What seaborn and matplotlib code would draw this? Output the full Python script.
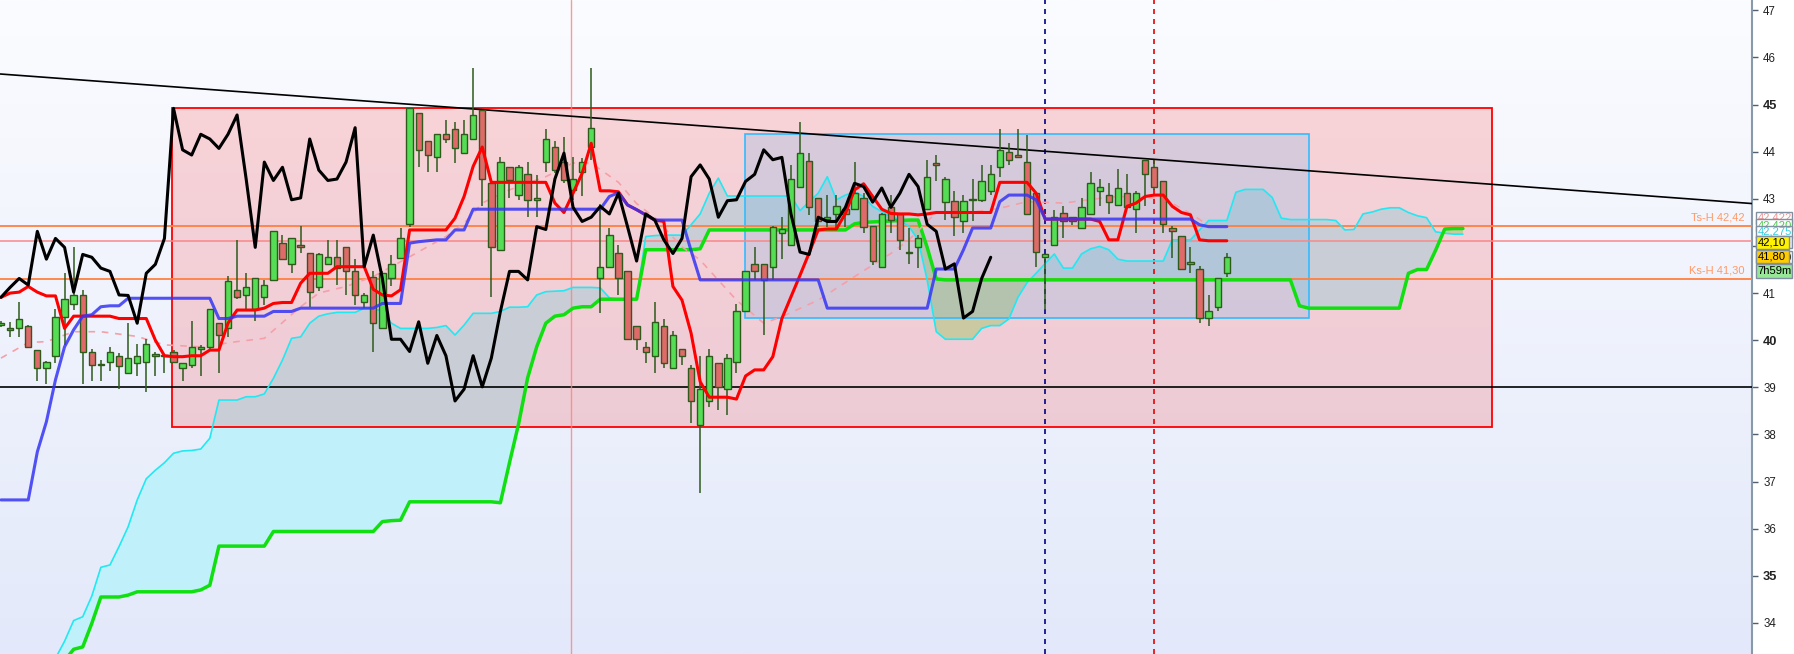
import numpy as np
import matplotlib
matplotlib.use('Agg')
import matplotlib.pyplot as plt
import matplotlib.transforms as mtransforms
from matplotlib.colors import LinearSegmentedColormap
from matplotlib.patches import Rectangle
import seaborn as sns

sns.set_style('white')
plt.rcParams['font.family'] = ['Liberation Sans', 'DejaVu Sans']

# candles (bar index 0..135)
opens = [40.32, 40.25, 40.25, 40.31, 39.80, 39.40, 39.67, 40.50, 40.76, 40.95,
         39.76, 39.47, 39.54, 39.67, 39.30, 39.51, 39.54, 39.71, 39.68, 39.76,
         39.40, 39.47, 39.81, 39.85, 40.36, 40.25, 41.07, 40.96, 40.66, 40.91,
         41.28, 42.06, 41.62, 42.02, 41.86, 41.12, 41.62, 41.76, 41.97, 41.46,
         40.80, 41.35, 40.25, 41.31, 41.75, 42.46, 44.82, 44.22, 43.88, 44.37,
         44.48, 43.97, 44.27, 44.89, 43.33, 41.92, 43.67, 43.08, 43.52, 42.98,
         43.78, 44.11, 43.78, 43.18, 43.58, 44.10, 41.31, 41.56, 41.86, 41.46,
         40.31, 39.85, 39.67, 40.31, 39.40, 39.81, 39.40, 38.20, 38.71, 39.51,
         38.96, 39.54, 40.63, 41.61, 41.61, 41.56, 42.27, 42.02, 43.26, 43.81,
         43.01, 42.57, 42.68, 42.78, 42.78, 43.01, 42.43, 41.56, 42.82, 42.68,
         41.86, 41.97, 42.78, 43.77, 42.93, 42.96, 42.53, 42.97, 42.98, 43.17,
         43.67, 44.00, 43.93, 43.78, 43.12, 41.76, 42.02, 42.71, 42.61, 42.38,
         42.68, 43.17, 43.08, 42.86, 43.12, 42.78, 43.83, 43.67, 43.37, 42.38,
         42.22, 41.62, 41.51, 40.47, 40.71, 41.42]
highs = [40.40, 40.38, 40.80, 40.33, 39.80, 39.56, 40.66, 41.42, 41.97, 41.07,
         39.81, 39.58, 39.86, 39.72, 40.36, 39.92, 40.02, 39.76, 39.71, 39.79,
         39.51, 40.41, 39.90, 40.66, 40.36, 41.36, 42.13, 41.42, 41.31, 41.28,
         42.31, 42.23, 42.16, 42.42, 41.86, 41.85, 42.13, 42.13, 41.97, 41.72,
         41.00, 41.46, 41.46, 41.81, 42.38, 44.92, 44.82, 44.22, 44.37, 44.68,
         44.64, 44.68, 45.77, 44.89, 43.33, 43.88, 43.67, 43.72, 43.79, 43.51,
         44.48, 44.22, 44.32, 43.88, 43.86, 45.77, 42.90, 42.38, 42.02, 41.46,
         40.31, 39.97, 40.80, 40.46, 40.20, 39.81, 39.47, 39.67, 39.81, 39.51,
         39.71, 40.76, 41.46, 41.97, 41.61, 42.42, 42.61, 43.72, 44.64, 43.97,
         43.01, 43.08, 43.08, 42.80, 43.79, 43.12, 42.43, 42.71, 43.08, 42.68,
         42.38, 42.23, 43.83, 43.93, 43.47, 43.17, 43.08, 43.42, 43.72, 43.72,
         44.48, 44.18, 44.48, 44.36, 43.12, 41.82, 42.77, 42.84, 42.61, 43.01,
         43.58, 43.42, 43.33, 43.64, 43.52, 43.17, 43.83, 43.83, 43.37, 42.43,
         42.22, 41.97, 41.58, 40.96, 41.31, 41.84]
lows = [40.28, 40.06, 40.06, 39.83, 39.14, 39.07, 39.51, 39.90, 40.64, 39.07,
        39.14, 39.14, 39.35, 38.96, 39.30, 39.24, 38.91, 39.24, 39.30, 39.54,
        39.14, 39.40, 39.24, 39.81, 39.30, 40.06, 40.87, 40.64, 40.41, 40.75,
        41.28, 41.72, 41.42, 41.86, 40.71, 41.05, 41.62, 41.17, 40.96, 40.75,
        40.68, 39.76, 40.25, 41.14, 41.72, 42.41, 43.67, 43.56, 43.56, 44.18,
        43.77, 43.97, 44.27, 42.84, 40.91, 41.92, 43.01, 42.98, 42.61, 42.61,
        43.58, 43.54, 43.33, 42.98, 43.06, 43.83, 40.57, 41.56, 40.96, 40.02,
        39.79, 39.51, 39.30, 39.40, 39.40, 39.47, 38.25, 36.75, 38.59, 38.52,
        38.41, 39.30, 40.63, 41.28, 40.10, 41.28, 41.72, 42.02, 43.22, 42.66,
        42.41, 42.41, 42.38, 42.41, 42.78, 42.27, 41.60, 41.56, 42.27, 41.92,
        41.62, 41.53, 42.78, 43.37, 42.55, 42.22, 42.27, 42.52, 42.93, 43.08,
        43.47, 43.71, 43.88, 42.68, 41.56, 40.64, 42.02, 42.16, 42.45, 42.38,
        42.68, 42.84, 42.68, 42.86, 42.82, 42.27, 42.84, 43.18, 42.27, 41.75,
        41.51, 41.42, 40.36, 40.30, 40.61, 41.35]
closes = [40.36, 40.22, 40.46, 39.85, 39.40, 39.54, 40.50, 40.87, 40.95, 39.76,
          39.47, 39.48, 39.76, 39.46, 39.62, 39.67, 39.92, 39.67, 39.66, 39.54,
          39.51, 39.85, 39.85, 40.66, 40.11, 41.26, 40.91, 41.12, 41.31, 41.17,
          42.31, 41.72, 42.16, 41.97, 41.02, 41.82, 41.76, 41.53, 41.46, 40.96,
          40.95, 40.36, 41.42, 41.61, 42.16, 44.92, 44.04, 43.93, 44.37, 44.27,
          44.07, 44.37, 44.78, 43.42, 41.97, 43.78, 43.39, 43.67, 42.98, 43.02,
          44.27, 43.61, 43.39, 43.42, 43.78, 44.51, 41.56, 42.23, 41.31, 40.02,
          40.02, 39.76, 40.39, 39.51, 40.10, 39.67, 38.71, 38.96, 39.67, 39.01,
          39.62, 40.61, 41.46, 41.46, 41.28, 42.41, 42.35, 43.42, 43.97, 42.82,
          42.52, 42.61, 42.84, 42.68, 43.12, 42.41, 41.68, 42.68, 42.55, 42.13,
          41.84, 42.16, 43.47, 43.72, 43.42, 42.61, 42.96, 42.98, 43.37, 43.52,
          44.04, 43.83, 43.88, 42.68, 41.87, 41.82, 42.61, 42.52, 42.52, 42.82,
          43.33, 43.26, 42.93, 43.23, 42.82, 43.12, 43.52, 43.26, 42.46, 42.31,
          41.51, 41.62, 40.47, 40.61, 41.31, 41.76]

tenkan = [40.91, 41.00, 41.02, 41.14, 41.02, 40.94, 40.94, 40.25, 40.51, 40.51,
          40.51, 40.51, 40.51, 40.46, 40.46, 40.46, 40.46, 40.00, 39.67, 39.65,
          39.65, 39.67, 39.67, 39.79, 39.79, 40.36, 40.64, 40.64, 40.64, 40.68,
          40.78, 40.80, 40.80, 41.21, 41.42, 41.42, 41.42, 41.56, 41.56, 41.56,
          41.56, 41.08, 40.96, 40.94, 41.07, 42.34, 42.34, 42.34, 42.34, 42.34,
          42.59, 43.05, 43.69, 44.10, 43.35, 43.35, 43.35, 43.35, 43.35, 43.35,
          43.35, 42.91, 42.71, 43.12, 43.54, 44.18, 43.17, 43.17, 43.15, 42.87,
          42.77, 42.66, 42.55, 42.52, 41.14, 40.85, 40.15, 39.12, 38.79, 38.79,
          38.79, 38.75, 39.24, 39.37, 39.37, 39.65, 40.46, 40.92, 41.38, 41.85,
          42.34, 42.36, 42.36, 42.69, 43.19, 43.32, 43.05, 42.78, 42.69, 42.68,
          42.68, 42.66, 42.68, 42.71, 42.71, 42.71, 42.71, 42.71, 42.71, 42.71,
          43.35, 43.35, 43.35, 43.35, 43.12, 42.57, 42.57, 42.57, 42.57, 42.57,
          42.57, 42.52, 42.13, 42.13, 42.84, 42.91, 43.05, 43.08, 43.08, 42.84,
          42.71, 42.66, 42.13, 42.11, 42.11, 42.11]
kijun = [36.61, 36.61, 36.61, 36.61, 37.63, 38.27, 39.16, 39.86, 40.22, 40.51,
         40.54, 40.71, 40.73, 40.73, 40.89, 40.89, 40.89, 40.89, 40.89, 40.89,
         40.89, 40.89, 40.89, 40.89, 40.46, 40.46, 40.51, 40.51, 40.51, 40.51,
         40.61, 40.61, 40.61, 40.68, 40.68, 40.68, 40.68, 40.68, 40.68, 40.68,
         40.68, 40.68, 40.78, 40.78, 40.78, 42.06, 42.09, 42.11, 42.13, 42.13,
         42.34, 42.34, 42.78, 42.78, 42.78, 42.78, 42.78, 42.78, 42.78, 42.78,
         42.78, 42.78, 42.78, 42.78, 42.78, 42.78, 42.78, 43.05, 43.13, 42.87,
         42.77, 42.66, 42.55, 42.55, 42.55, 42.55, 41.90, 41.28, 41.28, 41.28,
         41.28, 41.28, 41.28, 41.28, 41.28, 41.28, 41.28, 41.28, 41.28, 41.28,
         41.28, 40.68, 40.68, 40.68, 40.68, 40.68, 40.68, 40.68, 40.68, 40.68,
         40.68, 40.68, 40.68, 41.51, 41.51, 41.51, 41.92, 42.38, 42.38, 42.38,
         42.94, 43.08, 43.08, 43.08, 42.98, 42.57, 42.57, 42.57, 42.57, 42.57,
         42.57, 42.57, 42.57, 42.57, 42.57, 42.57, 42.57, 42.57, 42.57, 42.57,
         42.57, 42.57, 42.45, 42.41, 42.41, 42.41]

# leading spans (bar index 0..161)
span_a = [32.30, 32.50, 32.70, 32.90, 33.00, 33.10, 33.25, 33.61, 34.05, 34.13,
          34.57, 35.18, 35.23, 35.62, 36.04, 36.61, 37.06, 37.24, 37.40, 37.60,
          37.65, 37.66, 37.69, 37.92, 38.73, 38.73, 38.73, 38.80, 38.80, 38.86,
          39.19, 39.58, 40.04, 40.07, 40.36, 40.51, 40.56, 40.59, 40.59, 40.59,
          40.68, 40.68, 40.61, 40.36, 40.25, 40.25, 40.25, 40.25, 40.27, 40.31,
          40.11, 40.32, 40.57, 40.57, 40.57, 40.61, 40.70, 40.70, 40.71, 40.96,
          41.03, 41.04, 41.05, 41.12, 41.12, 41.12, 41.11, 40.90, 40.87, 40.87,
          40.87, 42.20, 42.22, 42.23, 42.23, 42.23, 42.45, 42.68, 43.12, 43.44,
          43.06, 43.06, 43.06, 43.06, 43.06, 43.06, 43.06, 43.06, 42.75, 42.94,
          43.12, 43.47, 42.98, 43.08, 43.15, 43.05, 42.84, 42.73, 42.62, 42.55,
          42.41, 42.13, 41.28, 40.18, 40.02, 40.02, 40.02, 40.02, 40.25, 40.31,
          40.31, 40.45, 40.91, 41.22, 41.42, 41.63, 41.83, 41.53, 41.53, 41.83,
          41.94, 41.99, 41.92, 41.72, 41.68, 41.68, 41.68, 41.68, 41.68, 42.13,
          42.13, 42.13, 42.34, 42.54, 42.54, 42.54, 43.14, 43.20, 43.20, 43.20,
          43.03, 42.59, 42.56, 42.56, 42.56, 42.56, 42.56, 42.54, 42.34, 42.35,
          42.68, 42.72, 42.78, 42.81, 42.81, 42.71, 42.64, 42.60, 42.30, 42.27,
          42.25, 42.25]
span_b = [33.10, 33.10, 33.10, 33.10, 33.10, 33.10, 33.15, 33.20, 33.44, 33.49,
          33.99, 34.55, 34.55, 34.55, 34.59, 34.66, 34.66, 34.66, 34.66, 34.66,
          34.66, 34.66, 34.70, 34.80, 35.63, 35.63, 35.63, 35.63, 35.63, 35.63,
          35.94, 35.94, 35.94, 35.94, 35.94, 35.94, 35.94, 35.94, 35.94, 35.94,
          35.94, 35.94, 36.15, 36.17, 36.18, 36.57, 36.57, 36.57, 36.57, 36.57,
          36.57, 36.57, 36.57, 36.57, 36.57, 36.55, 37.40, 38.22, 39.20, 39.86,
          40.36, 40.51, 40.54, 40.68, 40.71, 40.71, 40.87, 40.87, 40.87, 40.87,
          40.87, 41.92, 41.92, 41.92, 41.92, 41.92, 41.92, 41.94, 42.34, 42.34,
          42.34, 42.34, 42.34, 42.34, 42.34, 42.34, 42.34, 42.34, 42.34, 42.34,
          42.34, 42.34, 42.34, 42.34, 42.47, 42.50, 42.51, 42.52, 42.53, 42.54,
          42.55, 42.55, 41.97, 41.30, 41.28, 41.28, 41.28, 41.28, 41.28, 41.28,
          41.28, 41.28, 41.28, 41.28, 41.28, 41.28, 41.28, 41.28, 41.28, 41.28,
          41.28, 41.28, 41.28, 41.28, 41.28, 41.28, 41.28, 41.28, 41.28, 41.28,
          41.28, 41.28, 41.28, 41.28, 41.28, 41.28, 41.28, 41.28, 41.28, 41.28,
          41.28, 41.28, 41.28, 40.73, 40.68, 40.68, 40.68, 40.68, 40.68, 40.68,
          40.68, 40.68, 40.68, 40.68, 40.68, 41.42, 41.50, 41.50, 41.91, 42.36,
          42.37, 42.37]

# dashed moving average, read at these bars
ma_idx = [0, 3, 5, 8, 11, 15, 18, 22, 26, 29, 33, 35, 38, 41, 45, 49, 51, 53,
          56, 60, 63, 65, 68, 70, 72, 75, 77, 81, 84, 86, 90, 94, 98, 100, 103,
          106, 110, 113, 117, 121, 123, 128, 131, 133]
ma_val = [39.62, 39.95, 39.97, 40.18, 40.18, 40.08, 39.90, 39.86, 39.97, 40.04,
          40.71, 41.00, 41.14, 41.35, 41.77, 42.20, 42.48, 42.91, 43.19, 43.47,
          43.76, 43.76, 43.35, 42.90, 42.60, 41.98, 41.70, 40.85, 40.36, 40.50,
          40.85, 41.35, 41.84, 42.13, 42.71, 42.69, 42.80, 42.94, 42.91, 43.01,
          43.05, 43.01, 42.69, 42.43]

chikou_shift = 26
levels = {'Ts-H 42,42': 42.42, 'Ks-H 41,30': 41.30}
last_price_line = 42.10
support = 39.0
trend_x = [-0.11, 192.84]
trend_y = [45.65, 42.90]
price_tags = ['42,422', '42,420', '42,275', '42,115', '42,10', '41,790', '41,80', '7h59m']

W, H = 1794, 654
fig = plt.figure(figsize=(W / 100, H / 100), dpi=100, facecolor='white')
ax = fig.add_axes([0, 0, 1752 / W, 1])
xlim = (-0.11, 192.84)
ylim = (33.34, 47.22)
ax.set_xlim(*xlim)
ax.set_ylim(*ylim)

# background gradient
bg = LinearSegmentedColormap.from_list('bg', ['#FBFCFF', '#E3E9FA'])
ax.imshow(np.linspace(0, 1, 256).reshape(-1, 1), cmap=bg, aspect='auto',
          extent=(xlim[0], xlim[1], ylim[0], ylim[1]), origin='upper', zorder=0)

idx = np.arange(len(closes))
fidx = np.arange(len(span_a))
sa = np.array(span_a)
sb = np.array(span_b)

# cloud
ax.fill_between(fidx, sa, sb, where=sa >= sb, interpolate=True,
                color='#C0F1FB', lw=0, zorder=1)
ax.fill_between(fidx, sa, sb, where=sa < sb, interpolate=True,
                color='#C2EDBE', lw=0, zorder=1)

# zones
ax.add_patch(Rectangle((18.87, 38.15), 164.2 - 18.87, 44.93 - 38.15,
                       facecolor=(1, 0, 0, 0.15), edgecolor='#FF0000', lw=1.3, zorder=2))
ax.add_patch(Rectangle((81.97, 40.47), 144.1 - 81.97, 44.37 - 40.47,
                       facecolor=(0.24, 0.66, 0.94, 0.17), edgecolor='#33BBFF', lw=1.2, zorder=2.1))

# horizontal / vertical guides
for lab, val in levels.items():
    ax.axhline(val, color='#FF8040', lw=1.3, zorder=3)
ax.axhline(last_price_line, color='#F88888', lw=1.1, zorder=3)
ax.axhline(support, color='black', lw=1.2, zorder=3)
ax.axvline(62.8, color='#FF8080', lw=1, alpha=0.8, zorder=3)
ax.axvline(115, color='#000088', lw=1.2, ls=(0, (3, 3)), zorder=3)
ax.axvline(127, color='#EE0000', lw=1.2, ls=(0, (3, 3)), zorder=3)
ax.plot(trend_x, trend_y, color='black', lw=1.2, zorder=3)

# ichimoku lines
sns.lineplot(x=fidx, y=span_a, color='#22E8F2', lw=1.2, zorder=4, ax=ax,
             estimator=None, sort=False)
sns.lineplot(x=fidx, y=span_b, color='#10E010', lw=2.5, zorder=4, ax=ax,
             estimator=None, sort=False)
ax.plot(ma_idx, ma_val, color='#F5A0A8', lw=1.2, dashes=(4, 4), zorder=4)

# candles
o = np.array(opens)
c = np.array(closes)
up = c >= o
ax.vlines(idx, lows, highs, color='#2E5A1C', lw=1.1, zorder=5)
ax.bar(idx, np.maximum(np.abs(c - o), 0.03), bottom=np.minimum(o, c), width=0.7,
       color=np.where(up, '#55DD55', '#E06A6A'), edgecolor='#2E5A1C', lw=1, zorder=5.5)

sns.lineplot(x=idx, y=tenkan, color='#FF0000', lw=2.2, zorder=6, ax=ax,
             estimator=None, sort=False)
sns.lineplot(x=idx, y=kijun, color='#3535F5', lw=2.2, alpha=0.85, zorder=6, ax=ax,
             estimator=None, sort=False)
sns.lineplot(x=idx[:-chikou_shift], y=closes[chikou_shift:], color='black', lw=2.2,
             zorder=6, ax=ax, estimator=None, sort=False)

# level captions
trans = mtransforms.blended_transform_factory(ax.transAxes, ax.transData)
for lab, val in levels.items():
    ax.text(0.996, val + 0.07, lab, transform=trans, ha='right', va='bottom',
            color='#FF9966', fontsize=8, zorder=7)

# axes styling
ax.set_xticks([])
ax.yaxis.tick_right()
ticks = list(range(34, 48))
ax.set_yticks(ticks)
ax.set_yticklabels([str(t) for t in ticks])
ax.tick_params(axis='y', direction='out', length=4, width=1, colors='#506070',
               labelcolor='#222222', labelsize=8.3, pad=4)
for t, lab in zip(ticks, ax.get_yticklabels()):
    if t % 5 == 0:
        lab.set_fontweight('bold')
        lab.set_fontsize(9.3)
for s in ['left', 'top', 'bottom']:
    ax.spines[s].set_visible(False)
ax.spines['right'].set_color('#8899AA')
ax.spines['right'].set_linewidth(1.5)
ax.set_xlabel('')
ax.set_ylabel('')
if ax.get_legend():
    ax.get_legend().remove()

# price tags at the right axis (stacked, later ones cover earlier ones)
tag_boxes = [(212, 224, 1792, 'white', '#F09090'),
             (219, 231, 1792, 'white', '#44CC44'),
             (226, 238, 1792, 'white', '#33CCDD'),
             (236, 248, 1792, '#E8ECF4', '#FF3333'),
             (236, 249, 1789, '#FFF200', 'black'),
             (251, 263, 1792, 'white', 'black'),
             (250, 263, 1789, '#FFCC00', 'black'),
             (264, 278, 1792, '#96E896', 'black')]
for k, (txt, (yt, yb, xr, face, tcol)) in enumerate(zip(price_tags, tag_boxes)):
    x0 = 1756
    fig.add_artist(Rectangle((x0 / W, 1 - yb / H), (xr - x0) / W, (yb - yt) / H,
                             transform=fig.transFigure, facecolor=face,
                             edgecolor='#8090A0', lw=1, zorder=10 + 2 * k))
    fig.text((x0 + 1.5) / W, 1 - (yt + yb) / 2 / H, txt, ha='left', va='center',
             color=tcol, fontsize=8.1, zorder=11 + 2 * k)

fig.savefig('out.png', dpi=100, facecolor='white')
